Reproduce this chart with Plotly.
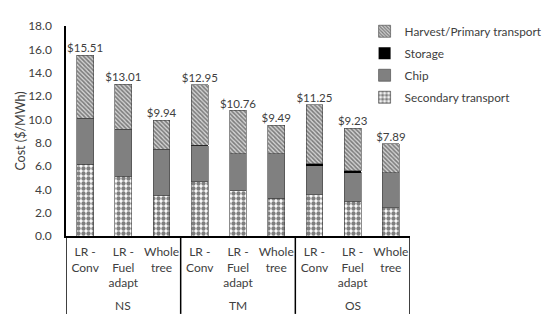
import plotly.graph_objects as go

groups = ["NS", "TM", "OS"]
subcats = ["LR -<br>Conv", "LR -<br>Fuel<br>adapt", "Whole<br>tree"]
secondary = [6.14, 5.14, 3.51, 4.63, 3.88, 3.23, 3.54, 2.97, 2.43]
chip = [3.97, 4.00, 3.92, 3.12, 3.17, 3.80, 2.52, 2.49, 3.00]
storage = [0.0, 0.0, 0.0, 0.05, 0.0, 0.0, 0.15, 0.12, 0.0]
harvest = [5.40, 3.87, 2.51, 5.15, 3.71, 2.46, 5.04, 3.65, 2.46]
totals = [15.51, 13.01, 9.94, 12.95, 10.76, 9.49, 11.25, 9.23, 7.89]
total_labels = ["$" + f"{t:.2f}" for t in totals]

x = list(range(len(totals)))
ticktext = [s for g in groups for s in subcats]

FONT = "Lato"
TXT = "#404040"
line = dict(color="#404040", width=0.6)
bw = 0.44

fig = go.Figure()
fig.add_bar(x=x, y=secondary, name="Secondary transport", width=bw,
            legendgroup="d", legendrank=4,
            marker=dict(color="white", line=line,
                        pattern=dict(shape=".", fgcolor="black", bgcolor="white",
                                     size=5, solidity=0.6)))
fig.add_bar(x=x, y=chip, name="Chip", width=bw, legendgroup="c", legendrank=3,
            marker=dict(color="#808080", line=line))
fig.add_bar(x=x, y=storage, name="Storage", width=bw, legendgroup="b", legendrank=2,
            marker=dict(color="black", line=dict(width=0)))
fig.add_bar(x=x, y=harvest, name="Harvest/Primary transport", width=bw,
            legendgroup="a", legendrank=1,
            marker=dict(color="#d4d4d4", line=line,
                        pattern=dict(shape="\\", fgcolor="#262626", bgcolor="#d4d4d4",
                                     size=3, solidity=0.55)))
fig.add_scatter(x=x, y=totals, mode="text", text=total_labels,
                textposition="top center", showlegend=False,
                textfont=dict(family=FONT, size=11.5, color=TXT),
                hoverinfo="skip")

# group labels and dividers
for i, g in enumerate(groups):
    fig.add_annotation(x=3 * i + 1, y=-0.375, xref="x", yref="paper", text=g,
                       showarrow=False, font=dict(family=FONT, size=12, color=TXT))
for b in [-0.5, 2.5, 5.5, 8.5]:
    fig.add_shape(type="line", x0=b, x1=b, xref="x", y0=0, y1=-0.371, yref="paper",
                  line=dict(color="black", width=1.5))

fig.update_layout(
    width=534, height=312,
    margin=dict(l=58, r=132, t=18, b=84, autoexpand=False),
    barmode="stack",
    plot_bgcolor="white", paper_bgcolor="white",
    font=dict(family=FONT, size=12, color=TXT),
    legend=dict(traceorder="grouped", x=0.868, xanchor="left", y=1.044,
                yanchor="top", font=dict(family=FONT, size=11.8, color=TXT),
                itemwidth=30, tracegroupgap=3, bgcolor="rgba(0,0,0,0)"),
    xaxis=dict(range=[-0.5, 8.5], tickvals=x, ticktext=ticktext, showgrid=False,
               showline=True, linecolor="black", linewidth=1.5, ticks="",
               tickangle=0, ticklabelstandoff=4, automargin=False,
               tickfont=dict(family=FONT, size=12, color=TXT), zeroline=False),
    yaxis=dict(range=[0, 18], dtick=2, tickformat=".1f", showgrid=False,
               showline=True, linecolor="black", linewidth=1.5, ticks="",
               ticklabelstandoff=10, automargin=False,
               zeroline=False, tickfont=dict(family=FONT, size=12, color=TXT),
               title=dict(text="Cost ($/MWh)", font=dict(family=FONT, size=12.5, color=TXT),
                          standoff=0)),
)

fig.write_html("out.html")
